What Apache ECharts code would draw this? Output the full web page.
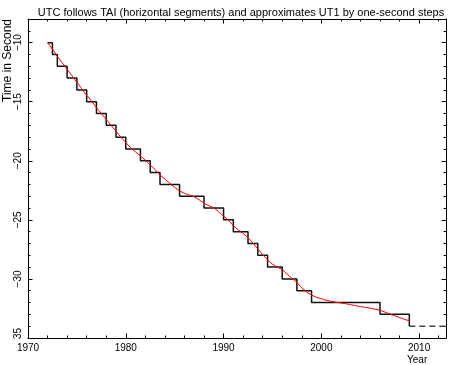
<!DOCTYPE html>
<html>
<head>
<meta charset="utf-8">
<script src="https://cdn.jsdelivr.net/npm/echarts@6/dist/echarts.min.js"></script>
<style>html,body{margin:0;padding:0;background:#fff}#c{width:450px;height:365px}</style>
</head>
<body>
<div id="c"></div>
<script>
var titleText = 'UTC follows TAI (horizontal segments) and approximates UT1 by one-second steps';
var xName = 'Year';
var yName = 'Time in Second';

// UTC - TAI step dates (year) and values (s)
var leapYears = [1972.0, 1972.5, 1973.0, 1974.0, 1975.0, 1976.0, 1977.0, 1978.0, 1979.0, 1980.0,
  1981.5, 1982.5, 1983.5, 1985.5, 1988.0, 1990.0, 1991.0, 1992.5, 1993.5, 1994.5,
  1996.0, 1997.5, 1999.0, 2006.0, 2009.0];
var utcTai = [-10, -11, -12, -13, -14, -15, -16, -17, -18, -19,
  -20, -21, -22, -23, -24, -25, -26, -27, -28, -29,
  -30, -31, -32, -33, -34];

// Projected continuation (dashed)
var futureYears = [2009.0, 2013.0];
var futureVals = [-34, -34];

// UT1 - TAI (s)
var ut1Years = [1972.0, 1972.5, 1973.0, 1973.5, 1974.0, 1974.5, 1975.0, 1975.5, 1976.0, 1976.5,
  1977.0, 1977.5, 1978.0, 1978.5, 1979.0, 1979.5, 1980.0, 1980.5, 1981.0, 1981.5,
  1982.0, 1982.5, 1983.0, 1983.5, 1984.0, 1984.5, 1985.0, 1985.5, 1986.0, 1986.5,
  1987.0, 1987.5, 1988.0, 1988.5, 1989.0, 1989.5, 1990.0, 1990.5, 1991.0, 1991.5,
  1992.0, 1992.5, 1993.0, 1993.5, 1994.0, 1994.5, 1995.0, 1995.5, 1996.0, 1996.5,
  1997.0, 1997.5, 1998.0, 1998.5, 1999.0, 1999.5, 2000.0, 2000.5, 2001.0, 2001.5,
  2002.0, 2002.5, 2003.0, 2003.5, 2004.0, 2004.5, 2005.0, 2005.5, 2006.0, 2006.5,
  2007.0, 2007.5, 2008.0, 2008.5, 2009.0];
var ut1Tai = [-10.0, -10.55, -11.15, -11.7, -12.25, -12.8, -13.35, -13.9, -14.45, -14.95,
  -15.5, -16.0, -16.5, -17.0, -17.5, -18.0, -18.45, -18.9, -19.25, -19.6,
  -19.95, -20.35, -20.75, -21.2, -21.55, -21.9, -22.25, -22.55, -22.75, -22.9,
  -23.05, -23.3, -23.6, -23.8, -23.98, -24.3, -24.7, -25.0, -25.5, -25.85,
  -26.15, -26.5, -26.95, -27.45, -27.95, -28.4, -28.75, -29.0, -29.2, -29.6,
  -29.95, -30.3, -30.75, -31.1, -31.37, -31.55, -31.68, -31.8, -31.9, -31.97,
  -32.03, -32.1, -32.18, -32.26, -32.34, -32.41, -32.48, -32.56, -32.65, -32.8,
  -32.97, -33.12, -33.27, -33.42, -33.55];

var xMin = 1970, xMax = 2012.75, yMin = -35, yMax = -8;
var FONT = 'Liberation Sans';

function pairs(xs, ys) { return xs.map(function (x, i) { return [x, ys[i]]; }); }
function fmtY(v) {
  return String(v).replace('-', '\u2212');
}

var chart = echarts.init(document.getElementById('c'), null, {renderer: 'canvas'});

function xAx(grid, pos, interval, len, labels) {
  return {
    type: 'value', gridIndex: grid, position: pos, min: xMin, max: xMax, interval: interval,
    axisLine: {show: grid === 0, lineStyle: {color: '#000', width: 1}},
    axisTick: {show: true, inside: true, length: len, lineStyle: {color: '#000', width: 1}},
    axisLabel: {show: labels, showMaxLabel: false, margin: 5, color: '#000', fontSize: 10, fontFamily: FONT,
      formatter: function (v) { return String(v); }},
    splitLine: {show: false}
  };
}
function yAx(grid, pos, interval, len, labels) {
  return {
    type: 'value', gridIndex: grid, position: pos, min: yMin, max: yMax, interval: interval,
    axisLine: {show: grid === 0, lineStyle: {color: '#000', width: 1}},
    axisTick: {show: true, inside: true, length: len, lineStyle: {color: '#000', width: 1}},
    axisLabel: {show: labels, showMaxLabel: false, rotate: 90, margin: 5, color: '#000', fontSize: 10, fontFamily: FONT,
      formatter: function (v) { return v === yMin ? '{b|35}' : fmtY(v); },
      rich: {b: {fontSize: 10, fontFamily: FONT, color: '#000', padding: [0, 0, 0, 9]}}},
    splitLine: {show: false}
  };
}

var G = {left: 28, right: 4, top: 19, bottom: 27};

var option = {
  animation: false,
  backgroundColor: '#fff',
  title: {
    text: titleText, left: 236, top: 2, textAlign: 'center',
    textStyle: {fontSize: 11, fontWeight: 'normal', color: '#000', fontFamily: FONT}
  },
  grid: [
    {left: G.left, right: G.right, top: G.top, bottom: G.bottom},
    {left: G.left, right: G.right, top: G.top, bottom: G.bottom}
  ],
  xAxis: [
    xAx(0, 'bottom', 10, 4.5, true),
    xAx(0, 'top', 10, 4.5, false),
    xAx(1, 'bottom', 2, 2.5, false),
    xAx(1, 'top', 2, 2.5, false)
  ],
  yAxis: [
    yAx(0, 'left', 5, 4.5, true),
    yAx(0, 'right', 5, 4.5, false),
    yAx(1, 'left', 1, 2.5, false),
    yAx(1, 'right', 1, 2.5, false)
  ],
  graphic: [
    {type: 'text', left: 2, top: 19, rotation: Math.PI / 2,
      style: {text: yName, fontSize: 12, fontFamily: FONT, fill: '#000'}},
    {type: 'text', left: 407, top: 355,
      style: {text: xName, fontSize: 10, fontFamily: FONT, fill: '#000'}}
  ],
  series: [
    {type: 'line', xAxisIndex: 0, yAxisIndex: 0, data: pairs(futureYears, futureVals), symbol: 'none',
      lineStyle: {color: '#444', width: 1.5, type: [6, 4]}, silent: true},
    {type: 'line', xAxisIndex: 0, yAxisIndex: 0, data: pairs(leapYears, utcTai), step: 'end', symbol: 'none',
      lineStyle: {color: '#111', width: 1.5}, silent: true},
    {type: 'line', xAxisIndex: 0, yAxisIndex: 0, data: pairs(ut1Years, ut1Tai), symbol: 'none',
      lineStyle: {color: '#ff0000', width: 1}, silent: true}
  ]
};
chart.setOption(option);
</script>
</body>
</html>
